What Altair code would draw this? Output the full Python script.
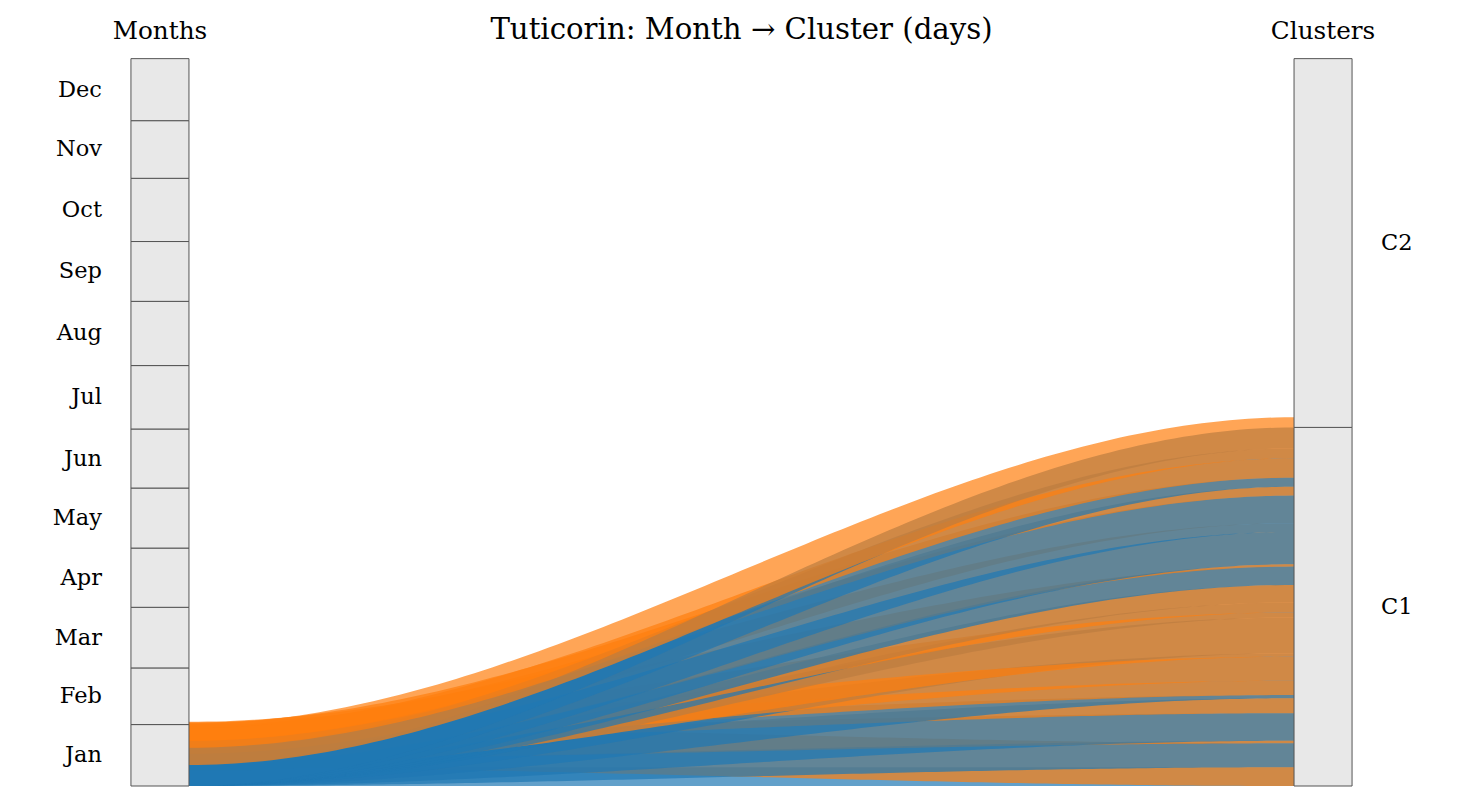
import altair as alt
import pandas as pd
import numpy as np

# ---------------- data ----------------
months = ["Jan", "Feb", "Mar", "Apr", "May", "Jun", "Jul", "Aug", "Sep", "Oct", "Nov", "Dec"]
clusters = ["C1", "C2"]

# days of each month assigned to each cluster
days_c1 = [9.4, 13.3, 21.3, 22.5, 18.0, 7.5, 8.8, 10.4, 16.2, 22.7, 19.2, 10.5]
days_c2 = [21.4, 15.1, 9.1, 7.2, 12.1, 22.1, 23.0, 21.8, 13.8, 9.0, 9.7, 20.6]

palette = {"C1": "#1f77b4", "C2": "#ff7f0e"}
NODE_W = 0.0525

# ---------------- tables ----------------
month_tot = np.array(days_c1) + np.array(days_c2)
m_end = np.cumsum(month_tot)
m_start = m_end - month_tot
month_df = pd.DataFrame({"label": months, "y0": m_start, "y1": m_end,
                         "mid": (m_start + m_end) / 2,
                         "x0": -NODE_W, "x1": 0.0})
cl_tot = np.array([sum(days_c1), sum(days_c2)])
c_end = np.cumsum(cl_tot)
c_start = c_end - cl_tot
cl_df = pd.DataFrame({"label": clusters, "y0": c_start, "y1": c_end,
                      "mid": (c_start + c_end) / 2,
                      "x0": 1.0, "x1": 1.0 + NODE_W})
TOTAL = float(month_tot.sum())

xs = alt.Scale(domain=[-0.171, 1.171], nice=False, zero=False)
ys = alt.Scale(domain=[-7.52, 394.1], nice=False, zero=False)

# flows (drawn month by month, C1 then C2), as the original renders them:
# the month end sits at the base of the month column, the cluster end at the base of the cluster column
c1_cum = np.cumsum(days_c1)
c2_cum = np.cumsum(days_c2)
flows = []
for i in range(len(months)):
    flows.append(("C1", 0.0, days_c1[i], c1_cum[i] - days_c1[i], c1_cum[i]))
    flows.append(("C2", days_c1[i], days_c1[i] + days_c2[i], c2_cum[i] - days_c2[i], c2_cum[i]))

layers = []
u = np.linspace(0, 1, 121)
s = 3 * u ** 2 - 2 * u ** 3
for cl, l0, l1, r0, r1 in flows:
    d = pd.DataFrame({"x": u, "lo": l0 + (r0 - l0) * s, "hi": l1 + (r1 - l1) * s})
    layers.append(
        alt.Chart(d).mark_area(color=palette[cl], opacity=0.7, interpolate="linear")
        .encode(x=alt.X("x:Q", scale=xs, axis=None),
                y=alt.Y("lo:Q", scale=ys, axis=None),
                y2="hi:Q")
    )

node_style = dict(fill="#e8e8e8", stroke="#555555", strokeWidth=1)
for df in (month_df, cl_df):
    layers.append(
        alt.Chart(df).mark_rect(**node_style).encode(
            x=alt.X("x0:Q", scale=xs, axis=None), x2="x1:Q",
            y=alt.Y("y0:Q", scale=ys, axis=None), y2="y1:Q")
    )

FONT = "DejaVu Serif"
layers.append(
    alt.Chart(month_df).mark_text(font=FONT, fontSize=22.5, align="right", baseline="middle",
                                  dx=-29, color="black")
    .encode(x=alt.X("x0:Q", scale=xs, axis=None), y=alt.Y("mid:Q", scale=ys, axis=None),
            text="label:N")
)
layers.append(
    alt.Chart(cl_df).mark_text(font=FONT, fontSize=22.5, align="left", baseline="middle",
                               dx=29, color="black")
    .encode(x=alt.X("x1:Q", scale=xs, axis=None), y=alt.Y("mid:Q", scale=ys, axis=None),
            text="label:N")
)

head_df = pd.DataFrame({"label": ["Months", "Clusters"], "x": [-NODE_W / 2, 1 + NODE_W / 2],
                        "y": [TOTAL] * 2})
layers.append(
    alt.Chart(head_df).mark_text(font=FONT, fontSize=24.7, align="center", baseline="middle",
                                 dy=-27, color="black")
    .encode(x=alt.X("x:Q", scale=xs, axis=None), y=alt.Y("y:Q", scale=ys, axis=None),
            text="label:N")
)
title_df = pd.DataFrame({"label": ["Tuticorin: Month \u2192 Cluster (days)"], "x": [0.5],
                         "y": [TOTAL]})
layers.append(
    alt.Chart(title_df).mark_text(font=FONT, fontSize=29.2, align="center", baseline="middle",
                                  dy=-29, color="black")
    .encode(x=alt.X("x:Q", scale=xs, axis=None), y=alt.Y("y:Q", scale=ys, axis=None),
            text="label:N")
)

chart = alt.layer(*layers).properties(
    width=1483, height=801,
    autosize=alt.AutoSizeParams(type="none"),
    padding=0,
).configure_view(stroke=None)

chart.save("out.html", embed_options={"renderer": "svg", "actions": False})
